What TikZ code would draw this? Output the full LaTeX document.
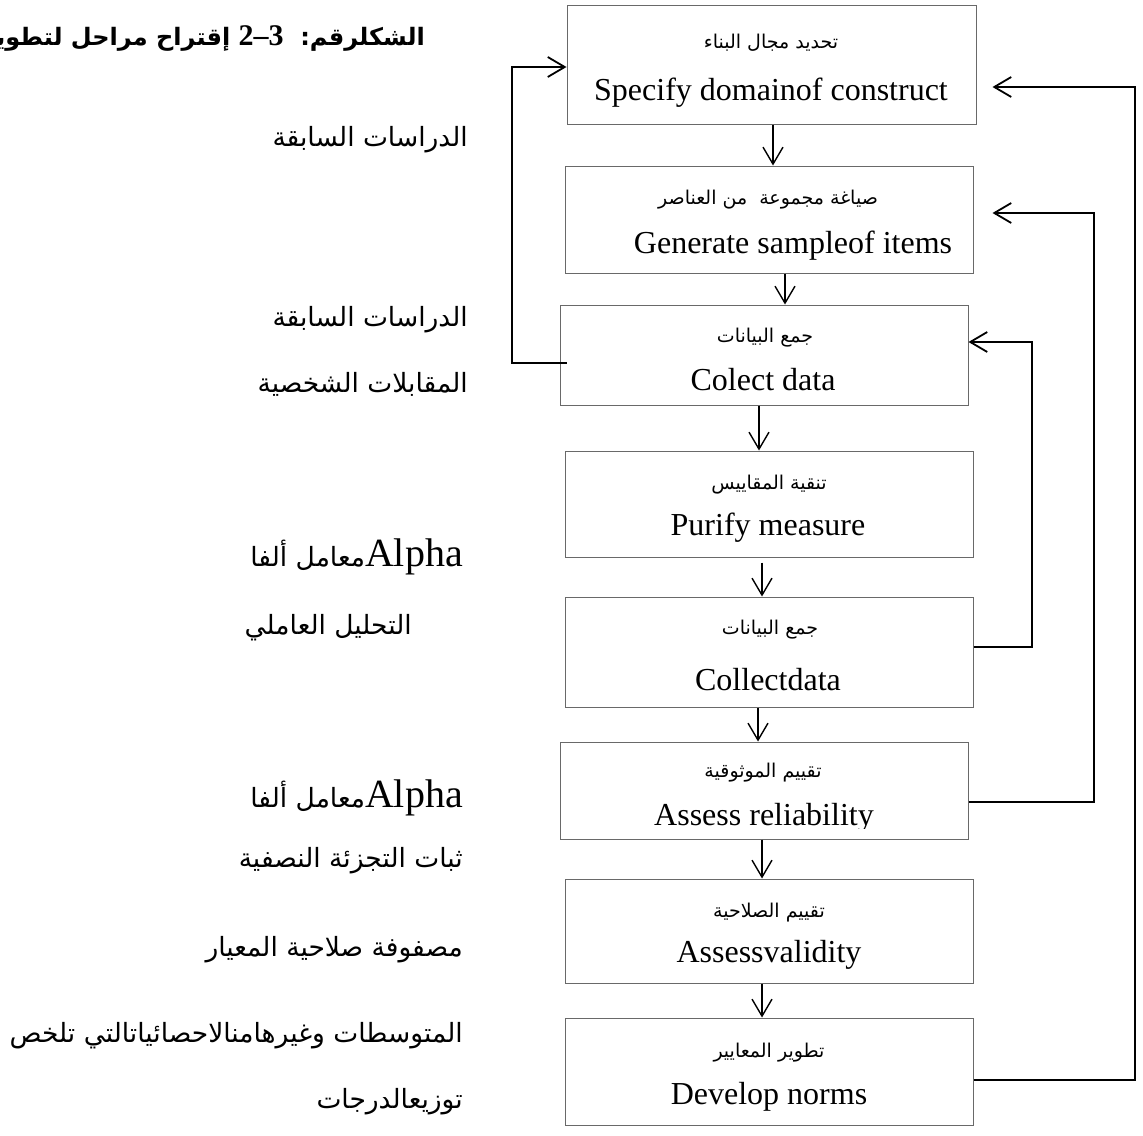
\documentclass[tikz,border=0pt]{standalone}
\usepackage{fontspec}
\setmainfont{Liberation Serif}
\newfontfamily\arabicfont[Script=Arabic]{DejaVu Sans}
\TeXXeTstate=1
\usetikzlibrary{arrows.meta}
\definecolor{boxgray}{RGB}{105,105,105}
\newcommand{\rtltext}[1]{\beginR #1\endR}
\newcommand{\latinrun}[2]{{\normalfont\fontsize{#1}{#1}\selectfont\beginL #2\endL}}

\begin{document}
\begin{tikzpicture}[x=1pt,y=-1pt,
  box/.style={draw=boxgray, line width=1pt, rectangle, inner sep=0pt},
  en/.style={font=\fontsize{32}{32}\selectfont, inner sep=0pt},
  arb/.style={font=\arabicfont\fontsize{19}{19}\selectfont, inner sep=0pt},
  side/.style={font=\arabicfont\fontsize{26.5}{26.5}\selectfont, inner sep=0pt, anchor=east},
  ttl/.style={font=\arabicfont\bfseries\fontsize{24}{24}\selectfont, inner sep=0pt, anchor=east},
  flow/.style={line width=1.4pt, -{Straight Barb[length=17pt,width=20pt]}},
  fb/.style={line width=2.2pt},
  fbarr/.style={fb, -{Straight Barb[length=17pt,width=20pt,line width=1.8pt]}},
]
\useasboundingbox (0,0) rectangle (1143,1135);

% process boxes
\node[box, minimum width=409pt, minimum height=119pt] (b1) at (771.5,64.5) {};
\node[box, minimum width=408pt, minimum height=107pt] (b2) at (769,219.5) {};
\node[box, minimum width=408pt, minimum height=100pt] (b3) at (764,355) {};
\node[box, minimum width=408pt, minimum height=106pt] (b4) at (769,504) {};
\node[box, minimum width=408pt, minimum height=110pt] (b5) at (769,652) {};
\node[box, minimum width=408pt, minimum height=97pt]  (b6) at (764,790.5) {};
\node[box, minimum width=408pt, minimum height=104pt] (b7) at (769,931) {};
\node[box, minimum width=408pt, minimum height=107pt] (b8) at (769,1071.5) {};

% box labels
\node[arb] (a1) at (771,43)   {\rtltext{تحديد مجال البناء}};
\node[en]  (e1) at (771,93)   {Specify domainof construct};
\node[arb] (a2) at (768,200)  {\rtltext{صياغة مجموعة\ \ من العناصر}};
\node[en]  (e2) at (793,246)  {Generate sampleof items};
\node[arb] (a3) at (765,338)  {\rtltext{جمع البيانات}};
\node[en]  (e3) at (763,380)  {Colect data};
\node[arb] (a4) at (769,485)  {\rtltext{تنقية المقاييس}};
\node[en]  (e4) at (768,528)  {Purify measure};
\node[arb] (a5) at (770,630)  {\rtltext{جمع البيانات}};
\node[en]  (e5) at (768,680)  {Collectdata};
\node[arb] (a6) at (763,773)  {\rtltext{تقييم الموثوقية}};
\begin{scope}
  \clip (500,700) rectangle (1000,828);
  \node[en] (e6) at (764,818) {Assess reliability};
\end{scope}
\node[arb] (a7) at (769,913)  {\rtltext{تقييم الصلاحية}};
\node[en]  (e7) at (769,955)  {Assessvalidity};
\node[arb] (a8) at (769,1053) {\rtltext{تطوير المعايير}};
\node[en]  (e8) at (769,1097) {Develop norms};

% main flow
\draw[flow] ([xshift=1.5pt]b1.south) -- ([xshift=1.5pt]b1.south |- b2.north);
\draw[flow] ([xshift=16pt]b2.south) -- ([xshift=16pt]b2.south |- b3.north);
\draw[flow] ([xshift=-5pt]b3.south) -- ([xshift=-5pt]b3.south |- b4.north);
\draw[flow] ([xshift=-7pt,yshift=-5pt]b4.south) -- ([xshift=-7pt]b4.south |- b5.north);
\draw[flow] ([xshift=-11pt]b5.south) -- ([xshift=-11pt]b5.south |- b6.north);
\draw[flow] ([xshift=-2pt]b6.south) -- ([xshift=-2pt]b6.south |- b7.north);
\draw[flow] ([xshift=-7pt]b7.south) -- ([xshift=-7pt]b7.south |- b8.north);

% feedback loops
\coordinate (lc) at (512,363);
\coordinate (r1) at (1032,647);
\coordinate (r2) at (1094,802);
\coordinate (r3) at (1135,1080);
\draw[fbarr] ([xshift=7pt,yshift=-8pt]b3.west) -- (lc) |- ([yshift=-2.5pt]b1.west);
\draw[fbarr] ([yshift=5pt]b5.east) -- (r1) |- ([yshift=13pt]b3.east);
\draw[fbarr] ([yshift=-11.5pt]b6.east) -- (r2) |- ([xshift=19pt,yshift=6.5pt]b2.east);
\draw[fbarr] ([yshift=-8.5pt]b8.east) -- (r3) |- ([xshift=16pt,yshift=-22.5pt]b1.east);

% title and side notes
\node[ttl] (title) at (425,38) {\rtltext{الشكلرقم:\ \ {\normalfont\bfseries\fontsize{30}{30}\selectfont\beginL 2–3\endL} إقتراح مراحل لتطوير}};
\node[side] (s1) at (468,140)  {\rtltext{الدراسات السابقة}};
\node[side] (s2) at (468,320)  {\rtltext{الدراسات السابقة}};
\node[side] (s3) at (468,384)  {\rtltext{المقابلات الشخصية}};
\node[side] (s4) at (463,557)  {\rtltext{\latinrun{40}{Alpha}معامل ألفا}};
\node[side] (s5) at (412,628)  {\rtltext{التحليل العاملي}};
\node[side] (s6) at (463,798)  {\rtltext{\latinrun{40}{Alpha}معامل ألفا}};
\node[side] (s7) at (463,861)  {\rtltext{ثبات التجزئة النصفية}};
\node[side] (s8) at (463,950)  {\rtltext{مصفوفة صلاحية المعيار}};
\node[side] (s9) at (463,1036) {\rtltext{المتوسطات وغيرهامنالاحصائياتالتي تلخص}};
\node[side] (s10) at (463,1102) {\rtltext{توزيعالدرجات}};
\end{tikzpicture}
\end{document}
